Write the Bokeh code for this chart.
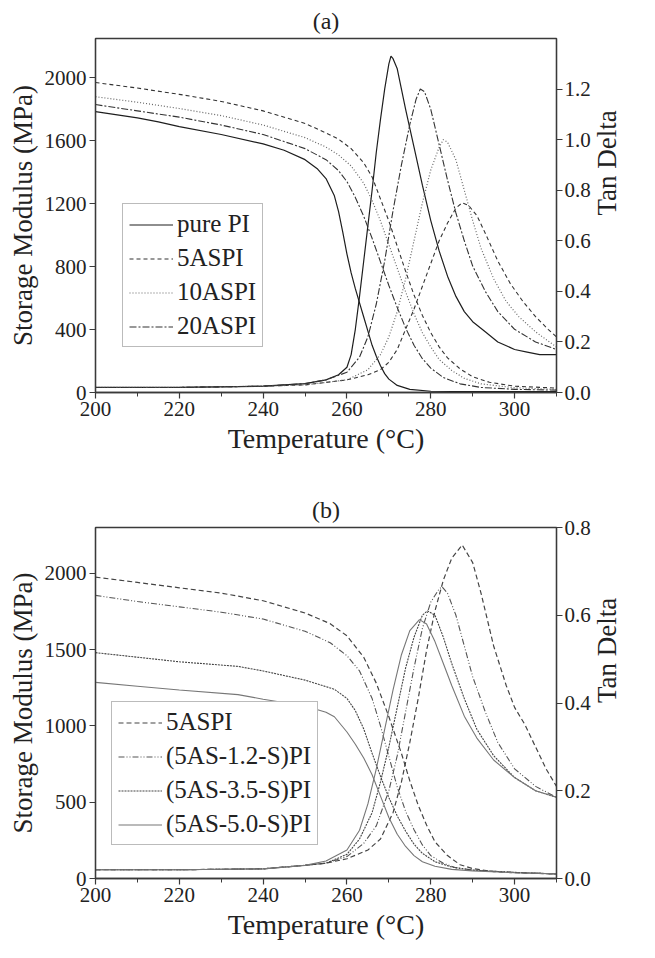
import math
from bokeh.plotting import figure
from bokeh.models import (Range1d, LinearAxis, SingleIntervalTicker, NumeralTickFormatter,
                          Legend, LegendItem)
from bokeh.layouts import column
from bokeh.embed import file_html
from bokeh.resources import INLINE

# ---------------- Panel (a) data ----------------
a_pure_E_T = [200, 210, 215, 220, 230, 240, 245, 250, 253, 255, 257, 258, 259, 260, 261, 262, 263, 264, 265, 266, 267, 268, 269, 270, 272, 275, 280, 290, 310]
a_pure_E = [1785, 1745, 1720, 1690, 1640, 1580, 1540, 1480, 1420, 1360, 1250, 1150, 1020, 880, 760, 660, 570, 480, 390, 300, 230, 170, 120, 85, 45, 20, 8, 5, 5]
a_5_E_T = [200, 210, 220, 230, 240, 250, 255, 258, 261, 264, 266, 268, 270, 272, 274, 276, 278, 280, 282, 284, 287, 290, 294, 300, 310]
a_5_E = [1970, 1935, 1895, 1850, 1790, 1710, 1650, 1610, 1550, 1460, 1370, 1230, 1090, 930, 770, 620, 490, 380, 290, 220, 150, 100, 65, 40, 28]
a_10_E_T = [200, 210, 220, 230, 240, 250, 255, 258, 261, 264, 266, 268, 270, 272, 274, 276, 278, 280, 282, 285, 288, 292, 300, 310]
a_10_E = [1880, 1845, 1805, 1760, 1700, 1620, 1560, 1510, 1440, 1330, 1220, 1090, 940, 790, 640, 500, 380, 290, 210, 140, 90, 55, 30, 20]
a_20_E_T = [200, 210, 220, 230, 240, 250, 255, 258, 260, 262, 264, 266, 268, 270, 272, 274, 276, 278, 280, 283, 287, 292, 300, 310]
a_20_E = [1830, 1790, 1750, 1700, 1640, 1550, 1480, 1410, 1340, 1240, 1120, 980, 830, 680, 540, 410, 300, 215, 155, 95, 55, 32, 20, 15]

a_pure_tan_T = [200, 220, 240, 250, 255, 258, 260, 261, 262, 263, 264, 265, 266, 267, 268, 269, 270, 270.5, 271, 272, 273, 274, 276, 278, 280, 282, 284, 286, 288, 290, 293, 296, 300, 303, 306, 310]
a_pure_tan = [0.02, 0.02, 0.025, 0.035, 0.05, 0.07, 0.1, 0.15, 0.25, 0.38, 0.52, 0.66, 0.8, 0.95, 1.08, 1.2, 1.3, 1.33, 1.32, 1.28, 1.2, 1.12, 0.97, 0.82, 0.68, 0.56, 0.46, 0.38, 0.32, 0.28, 0.24, 0.2, 0.17, 0.16, 0.15, 0.15]
a_20_tan_T = [200, 220, 240, 250, 255, 260, 263, 265, 267, 269, 271, 273, 275, 276.5, 277.5, 278.5, 280, 282, 284, 286, 288, 290, 293, 296, 300, 305, 310]
a_20_tan = [0.02, 0.02, 0.025, 0.035, 0.05, 0.08, 0.14, 0.22, 0.35, 0.52, 0.72, 0.9, 1.06, 1.16, 1.2, 1.19, 1.12, 0.98, 0.84, 0.71, 0.6, 0.5, 0.4, 0.32, 0.25, 0.2, 0.17]
a_10_tan_T = [200, 220, 240, 250, 255, 260, 265, 268, 270, 272, 274, 276, 278, 280, 282, 283, 284, 286, 288, 290, 292, 295, 298, 301, 305, 310]
a_10_tan = [0.02, 0.02, 0.025, 0.03, 0.04, 0.05, 0.09, 0.15, 0.22, 0.32, 0.45, 0.6, 0.75, 0.88, 0.97, 1.0, 0.99, 0.92, 0.8, 0.68, 0.57, 0.45, 0.36, 0.3, 0.24, 0.18]
a_5_tan_T = [200, 220, 240, 250, 255, 260, 265, 268, 270, 272, 274, 276, 278, 280, 282, 284, 286, 287.5, 289, 291, 293, 296, 299, 302, 305, 308, 310]
a_5_tan = [0.02, 0.02, 0.025, 0.03, 0.04, 0.05, 0.07, 0.09, 0.12, 0.17, 0.25, 0.33, 0.42, 0.51, 0.6, 0.67, 0.73, 0.75, 0.74, 0.7, 0.63, 0.52, 0.43, 0.36, 0.3, 0.25, 0.22]

a_labels = ["pure PI", "5ASPI", "10ASPI", "20ASPI"]

# ---------------- Panel (b) data ----------------
b_5_E_T = [200, 210, 220, 230, 240, 250, 256, 260, 264, 267, 270, 273, 275, 277, 279, 281, 284, 287, 290, 295, 300, 310]
b_5_E = [1975, 1940, 1905, 1870, 1820, 1740, 1670, 1590, 1450, 1280, 1060, 820, 640, 480, 350, 240, 150, 90, 65, 45, 38, 30]
b_12_E_T = [200, 210, 220, 230, 240, 250, 256, 260, 263, 266, 268, 270, 272, 274, 276, 278, 280, 283, 286, 290, 300, 310]
b_12_E = [1855, 1815, 1780, 1745, 1700, 1620, 1545, 1460, 1360, 1180, 1000, 800, 600, 440, 320, 220, 150, 100, 70, 55, 40, 30]
b_35_E_T = [200, 210, 220, 234, 240, 250, 257, 260, 262, 264, 266, 268, 270, 272, 274, 276, 278, 281, 285, 290, 300, 310]
b_35_E = [1480, 1450, 1420, 1390, 1360, 1300, 1240, 1180, 1100, 980, 820, 670, 530, 410, 310, 225, 165, 110, 75, 55, 40, 30]
b_50_E_T = [200, 210, 220, 234, 240, 250, 255, 257, 260, 262, 264, 266, 268, 270, 272, 274, 276, 278, 281, 285, 290, 300, 310]
b_50_E = [1285, 1260, 1235, 1205, 1175, 1130, 1090, 1060, 960, 880, 790, 680, 540, 400, 290, 210, 150, 110, 80, 60, 50, 38, 30]

b_5_tan_T = [200, 220, 240, 250, 255, 260, 265, 268, 271, 273, 275, 277, 279, 281, 283, 285, 287.5, 290, 292, 295, 298, 300, 302.5, 305, 307.5, 310]
b_5_tan = [0.02, 0.02, 0.022, 0.03, 0.035, 0.045, 0.065, 0.09, 0.15, 0.22, 0.31, 0.41, 0.52, 0.61, 0.68, 0.73, 0.76, 0.72, 0.65, 0.53, 0.44, 0.39, 0.35, 0.3, 0.25, 0.21]
b_12_tan_T = [200, 220, 240, 250, 255, 260, 264, 267, 270, 272, 274, 276, 278, 280, 282, 282.7, 284, 286, 288, 290, 293, 296, 300, 305, 310]
b_12_tan = [0.02, 0.02, 0.022, 0.03, 0.035, 0.05, 0.08, 0.12, 0.2, 0.28, 0.38, 0.48, 0.57, 0.63, 0.66, 0.665, 0.65, 0.6, 0.53, 0.46, 0.38, 0.31, 0.25, 0.21, 0.185]
b_35_tan_T = [200, 220, 240, 250, 255, 260, 263, 266, 268, 270, 272, 274, 276, 278, 279.2, 281, 283, 285, 288, 291, 295, 300, 305, 310]
b_35_tan = [0.02, 0.02, 0.022, 0.03, 0.035, 0.055, 0.09, 0.15, 0.22, 0.3, 0.39, 0.48, 0.55, 0.6, 0.61, 0.6, 0.55, 0.49, 0.41, 0.34, 0.28, 0.23, 0.2, 0.185]
b_50_tan_T = [200, 220, 240, 250, 255, 260, 263, 265, 267, 269, 271, 273, 275, 277.3, 279, 281, 283, 285, 288, 291, 295, 300, 305, 310]
b_50_tan = [0.02, 0.02, 0.022, 0.03, 0.04, 0.065, 0.11, 0.17, 0.25, 0.34, 0.43, 0.51, 0.565, 0.59, 0.58, 0.54, 0.49, 0.44, 0.37, 0.32, 0.27, 0.23, 0.2, 0.185]

b_labels = ["5ASPI", "(5AS-1.2-S)PI", "(5AS-3.5-S)PI", "(5AS-5.0-S)PI"]

FONT = "Liberation Serif"
AXC = "#3a3a3a"


def style_axis(ax, interval, minor, fmt=None, label=None, flip=False):
    ax.ticker = SingleIntervalTicker(interval=interval, num_minor_ticks=minor)
    if fmt:
        ax.formatter = NumeralTickFormatter(format=fmt)
    ax.axis_line_color = AXC
    ax.axis_line_width = 1.3
    ax.major_tick_line_color = AXC
    ax.major_tick_line_width = 1.2
    ax.minor_tick_line_color = AXC if minor else None
    ax.major_tick_out = 6
    ax.major_tick_in = 0
    ax.minor_tick_out = 4
    ax.minor_tick_in = 0
    ax.major_label_text_font = FONT
    ax.major_label_text_font_size = "21px"
    ax.major_label_text_color = "#222222"
    ax.major_label_standoff = 3
    if label is not None:
        ax.axis_label = label
        ax.axis_label_text_font = FONT
        ax.axis_label_text_font_size = "27px"
        ax.axis_label_text_font_style = "normal"
        ax.axis_label_text_color = "#222222"
        ax.axis_label_standoff = 4
        if flip:
            # read bottom-to-top like the left title
            try:
                ax.axis_label_orientation = math.pi / 2
                ax.axis_label_standoff = 13
                ax.major_label_standoff = 2
            except Exception:
                pass


def make_panel(title, height, btop, bbot, ymax, tmax, yint, yminor, tminor,
               e_series, t_series, labels, styles, legend_loc):
    p = figure(width=639, height=height, output_backend="svg", toolbar_location=None,
               x_range=Range1d(200, 310), y_range=Range1d(0, ymax),
               min_border_left=95, min_border_right=65, min_border_top=btop,
               min_border_bottom=bbot, title=title)
    p.title.align = "center"
    p.title.text_font = FONT
    p.title.text_font_size = "24px"
    p.title.text_font_style = "normal"
    p.title.text_color = "#222222"
    p.title.offset = 0
    p.extra_y_ranges = {"tan": Range1d(0, tmax)}
    p.grid.visible = False
    p.outline_line_color = AXC
    p.outline_line_width = 1.3
    p.background_fill_color = "white"
    p.border_fill_color = "white"

    style_axis(p.xaxis[0], 20, 2, label="Temperature (\u00b0C)")
    p.xaxis[0].axis_label_text_font_size = "28px"
    style_axis(p.yaxis[0], yint, yminor, label="Storage Modulus (MPa)")
    rax = LinearAxis(y_range_name="tan")
    style_axis(rax, 0.2, tminor, fmt="0.0", label="Tan Delta", flip=True)
    p.add_layout(rax, "right")

    items = []
    for (tx, ty), (sx, sy), lab, (col, dash, w) in zip(e_series, t_series, labels, styles):
        r = p.line(tx, ty, line_color=col, line_dash=dash, line_width=w)
        p.line(sx, sy, line_color=col, line_dash=dash, line_width=w, y_range_name="tan")
        items.append(LegendItem(label=lab, renderers=[r]))

    leg = Legend(items=items, location=legend_loc)
    leg.label_text_font = FONT
    leg.label_text_font_size = "25px"
    leg.label_text_color = "#222222"
    leg.border_line_color = "#777777"
    leg.border_line_width = 1.2
    leg.glyph_width = 44
    leg.glyph_height = 25
    leg.label_height = 25
    leg.spacing = 6
    leg.padding = 6
    leg.margin = 0
    leg.label_standoff = 4
    leg.background_fill_alpha = 1.0
    p.add_layout(leg, "center")
    return p


a_styles = [("#1e1e1e", "solid", 1.2), ("#333333", "4 3", 1.1),
            ("#666666", "1 2", 1.2), ("#333333", "7 2 2 2", 1.1)]
b_styles = [("#444444", "5 3", 1.2), ("#555555", "6 2 1 2 1 2", 1.1),
            ("#444444", "2 1", 1.1), ("#777777", "solid", 1.1)]

p1 = make_panel("(a)", 480, 32, 88, 2250, 1.4, 400, 0, 0,
                [(a_pure_E_T, a_pure_E), (a_5_E_T, a_5_E), (a_10_E_T, a_10_E), (a_20_E_T, a_20_E)],
                [(a_pure_tan_T, a_pure_tan), (a_5_tan_T, a_5_tan), (a_10_tan_T, a_10_tan), (a_20_tan_T, a_20_tan)],
                a_labels, a_styles, (27, 45))

p2 = make_panel("(b)", 462, 47, 57, 2300, 0.8, 500, 1, 1,
                [(b_5_E_T, b_5_E), (b_12_E_T, b_12_E), (b_35_E_T, b_35_E), (b_50_E_T, b_50_E)],
                [(b_5_tan_T, b_5_tan), (b_12_tan_T, b_12_tan), (b_35_tan_T, b_35_tan), (b_50_tan_T, b_50_tan)],
                b_labels, b_styles, (16, 33))

layout = column(p1, p2, spacing=0)
open("out.html", "w").write(file_html(layout, INLINE))
